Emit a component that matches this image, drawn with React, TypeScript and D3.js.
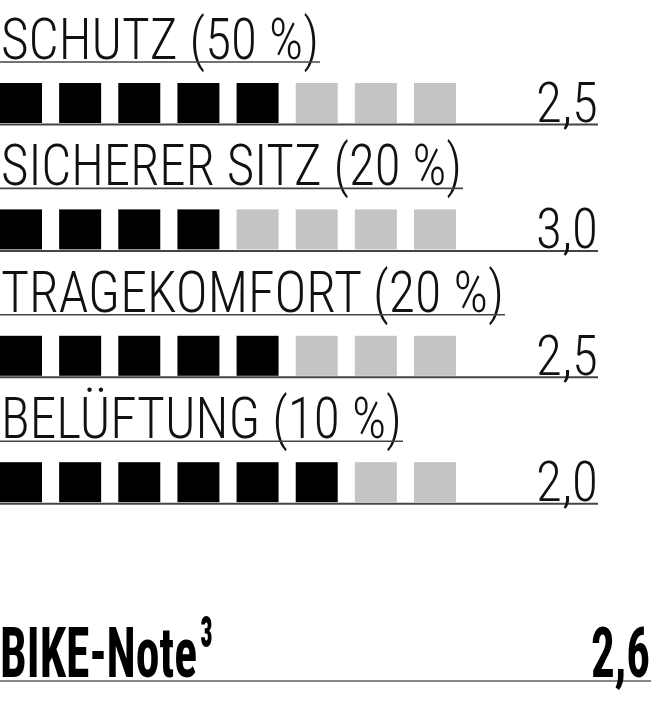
import React from "react";
import * as d3 from "d3";

const categories = ["SCHUTZ", "SICHERER SITZ", "TRAGEKOMFORT", "BELÜFTUNG"];
const weights = [50, 20, 20, 10];
const scores = [2.5, 3.0, 2.5, 2.0];
const filledBoxes = [5, 4, 5, 6];
const totalBoxes = 8;
const finalLabel = "BIKE-Note";
const finalSup = "³";
const finalScore = 2.6;

const W = 651;
const H = 720;
const labelWidths = [318, 461, 503, 401];
const FONT = "'Roboto Condensed', 'Liberation Sans Narrow', 'DejaVu Sans Condensed', Roboto, sans-serif";

const fmt = (v: number) => d3.format(".1f")(v).replace(".", ",");

export default function App() {
  const rowY = d3.scaleLinear().domain([0, categories.length]).range([0, 126.4 * categories.length]);
  const boxX = d3
    .scaleBand<number>()
    .domain(d3.range(totalBoxes))
    .range([0, 456])
    .paddingInner(0.29)
    .paddingOuter(0);

  return (
    <svg
      width={W}
      height={H}
      viewBox={`0 0 ${W} ${H}`}
      style={{ position: "absolute", left: 0, top: 0, background: "#fff" }}
    >
      {categories.map((c, i) => {
        const off = rowY(i);
        return (
          <g key={c} transform={`translate(0,${off})`}>
            <text
              x={1}
              y={59}
              fontFamily={FONT}
              fontWeight={300}
              fontSize={57}
              fill="#111"
              textLength={labelWidths[i]}
              lengthAdjust="spacingAndGlyphs"
            >
              {`${c} (${weights[i]} %)`}
            </text>
            <line x1={0} x2={labelWidths[i] + 2} y1={62} y2={62} stroke="#444" strokeWidth={1.6} />
            {d3.range(totalBoxes).map((b) => (
              <rect
                key={b}
                x={boxX(b)}
                y={83}
                width={boxX.bandwidth()}
                height={40}
                fill={b < filledBoxes[i] ? "#000" : "#c4c4c4"}
              />
            ))}
            <line x1={0} x2={598} y1={124.5} y2={124.5} stroke="#444" strokeWidth={2} />
            <text
              x={598}
              y={122}
              textAnchor="end"
              fontFamily={FONT}
              fontWeight={300}
              fontSize={56}
              fill="#111"
              textLength={62}
              lengthAdjust="spacingAndGlyphs"
            >
              {fmt(scores[i])}
            </text>
          </g>
        );
      })}
      <text
        x={0}
        y={677}
        fontFamily={FONT}
        fontWeight={700}
        fontSize={71}
        fill="#000"
        textLength={197}
        lengthAdjust="spacingAndGlyphs"
      >
        {finalLabel}
      </text>
      <text
        x={200}
        y={673}
        fontFamily={FONT}
        fontWeight={700}
        fontSize={80}
        fill="#000"
        textLength={13}
        lengthAdjust="spacingAndGlyphs"
      >
        {finalSup}
      </text>
      <line x1={0} x2={W} y1={681} y2={681} stroke="#888" strokeWidth={2} />
      <text
        x={650}
        y={677}
        textAnchor="end"
        fontFamily={FONT}
        fontWeight={700}
        fontSize={71}
        fill="#000"
        textLength={59}
        lengthAdjust="spacingAndGlyphs"
      >
        {fmt(finalScore)}
      </text>
    </svg>
  );
}
